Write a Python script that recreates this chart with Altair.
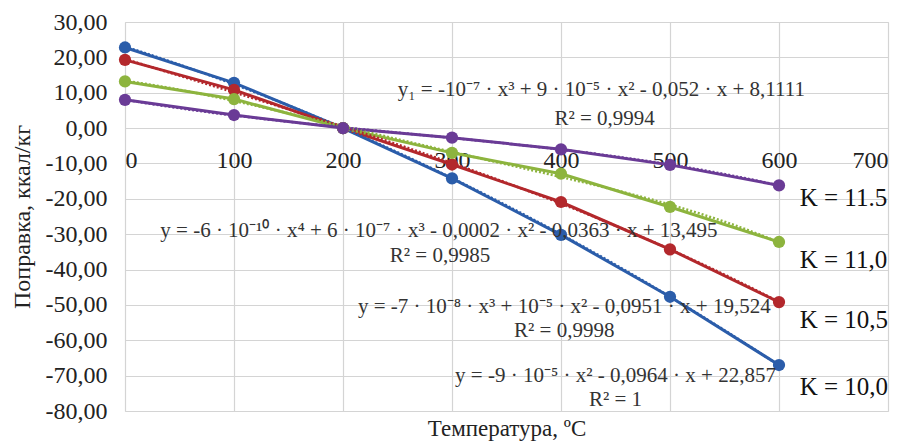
import altair as alt
import pandas as pd

# Temperature grid, °C
temps = [0, 100, 200, 300, 400, 500, 600]

# Correction values, kcal/kg, for each K
k_names = ["K = 10,0", "K = 10,5", "K = 11,0", "K = 11.5"]
corr_k100 = [22.8, 12.8, 0.0, -14.2, -30.2, -47.7, -67.0]
corr_k105 = [19.3, 10.8, 0.0, -10.3, -20.9, -34.3, -49.2]
corr_k110 = [13.2, 8.2, 0.0, -7.0, -12.9, -22.3, -32.2]
corr_k115 = [8.0, 3.7, 0.0, -2.7, -6.0, -10.4, -16.2]

# Polynomial order of each trend line
trend_orders = [2, 3, 4, 3]

# Trend-line equations and R² labels
eq_texts = [
    "y = -9 · 10⁻⁵ · x² - 0,0964 · x + 22,857",
    "y = -7 · 10⁻⁸ · x³ +  10⁻⁵ · x² - 0,0951 · x + 19,524",
    "y = -6 · 10⁻¹⁰ · x⁴ + 6 · 10⁻⁷ · x³ - 0,0002 · x² - 0,0363 · x + 13,495",
    "y₁ = -10⁻⁷ · x³ + 9 · 10⁻⁵ · x² - 0,052 · x + 8,1111",
]
r2_texts = ["R² = 1", "R² = 0,9998", "R² = 0,9985", "R² = 0,9994"]

colors = ["#2B5DAA", "#B3282C", "#8DB43E", "#6A3B96"]

series = [corr_k100, corr_k105, corr_k110, corr_k115]
rows = []
for name, vals in zip(k_names, series):
    for t, v in zip(temps, vals):
        rows.append({"K": name, "T": t, "dQ": v})
df = pd.DataFrame(rows)

# Annotation placement (data coordinates)
eq_pos = [(450, -70.1), (403, -50.6), (288, -29.1), (437, 10.8)]
r2_pos = [(450, -76.9), (403, -57.4), (289, -36.2), (440, 2.6)]
k_pos = [(619, -73.2), (619, -54.3), (619, -37.3), (619, -19.8)]

ann_eq = pd.DataFrame(
    [{"txt": t, "x": p[0], "y": p[1]} for t, p in zip(eq_texts, eq_pos)]
    + [{"txt": t, "x": p[0], "y": p[1]} for t, p in zip(r2_texts, r2_pos)]
)
ann_k = pd.DataFrame([{"txt": t, "x": p[0], "y": p[1]} for t, p in zip(k_names, k_pos)])

FONT = "Liberation Serif"

x_scale = alt.Scale(domain=[0, 700], nice=False)
y_scale = alt.Scale(domain=[-80, 30], nice=False)
color_scale = alt.Scale(domain=k_names, range=colors)

x_axis = alt.Axis(
    values=[0, 100, 200, 300, 400, 500, 600, 700],
    title="Температура, ºC",
    offset=-283,
    domain=False,
    ticks=False,
    labelOverlap=False,
    labelPadding=20,
    labelFontSize=24,
    labelFont=FONT,
    labelColor="#222222",
    titleFont=FONT,
    titleFontSize=23,
    titleFontWeight="normal",
    titleColor="#222222",
    titleY=300,
    titleBaseline="middle",
    gridColor="#D4D4D4",
    gridWidth=1.2,
)
y_axis = alt.Axis(
    values=list(range(-80, 31, 10)),
    title="Поправка, ккал/кг",
    domain=False,
    ticks=False,
    labelOverlap=False,
    labelPadding=18,
    labelFontSize=24,
    labelFont=FONT,
    labelColor="#222222",
    labelExpr="replace(replace(format(datum.value, '.2f'), '.', ','), '\u2212', '-')",
    titleFont=FONT,
    titleFontSize=24,
    titleFontWeight="normal",
    titleColor="#222222",
    titleX=-103,
    titleBaseline="middle",
    gridColor="#D4D4D4",
    gridWidth=1.2,
)


def enc_x(field):
    return alt.X(field, scale=x_scale, axis=x_axis)


def enc_y(field):
    return alt.Y(field, scale=y_scale, axis=y_axis)


base = alt.Chart(df)

lines = base.mark_line(strokeWidth=3).encode(
    x=enc_x("T:Q"),
    y=enc_y("dQ:Q"),
    color=alt.Color("K:N", scale=color_scale, legend=None, sort=k_names),
    detail="K:N",
)

trends = []
for name, order, col in zip(k_names, trend_orders, colors):
    trends.append(
        base.transform_filter(alt.datum.K == name)
        .transform_regression("T", "dQ", method="poly", order=order)
        .mark_line(strokeWidth=2.5, strokeDash=[2, 2], color=col)
        .encode(x=enc_x("T:Q"), y=enc_y("dQ:Q"))
    )

points = base.mark_circle(size=150, opacity=1).encode(
    x=enc_x("T:Q"),
    y=enc_y("dQ:Q"),
    color=alt.Color("K:N", scale=color_scale, legend=None),
)

eq_layer = alt.Chart(ann_eq).mark_text(
    font=FONT, fontSize=21, color="#333333", align="center", baseline="middle"
).encode(
    x=enc_x("x:Q"),
    y=enc_y("y:Q"),
    text="txt:N",
)

k_layer = alt.Chart(ann_k).mark_text(
    font=FONT, fontSize=25, color="#111111", align="left", baseline="middle"
).encode(
    x=enc_x("x:Q"),
    y=enc_y("y:Q"),
    text="txt:N",
)

chart = (
    alt.layer(lines, *trends, points, eq_layer, k_layer)
    .properties(
        width=763,
        height=389,
        autosize=alt.AutoSizeParams(type="none"),
        padding={"left": 125, "top": 22, "right": 20, "bottom": 32},
    )
    .configure_view(stroke=None)
    .configure(background="white")
)

chart.save("out.html", embed_options={"renderer": "svg", "actions": False})
